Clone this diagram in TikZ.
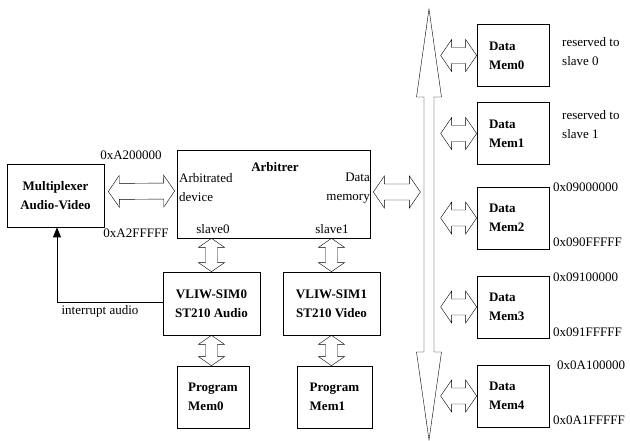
\documentclass[tikz,border=0pt]{standalone}
\usepackage{fontspec}
\setmainfont{Liberation Serif}
\usetikzlibrary{calc, arrows.meta}

\newcommand{\figfont}{\fontsize{13pt}{19pt}\selectfont}

\tikzset{
  box/.style={draw, line width=0.7pt, font=\figfont\bfseries, align=center},
  lbl/.style={inner sep=0pt},
  % hollow double-headed block arrow: shaft half width, head half width, head length
  fatarrow/.style n args={3}{
    line width=0.7pt,
    to path={
      let \p1=(\tikztostart), \p2=(\tikztotarget),
          \n1={atan2(\y2-\y1,\x2-\x1)} in
      -- ($(\p1)+(\n1:#3)+({\n1+90}:#2)$)
      -- ($(\p1)+(\n1:#3)+({\n1+90}:#1)$)
      -- ($(\p2)+({\n1+180}:#3)+({\n1+90}:#1)$)
      -- ($(\p2)+({\n1+180}:#3)+({\n1+90}:#2)$)
      -- (\p2)
      -- ($(\p2)+({\n1+180}:#3)+({\n1-90}:#2)$)
      -- ($(\p2)+({\n1+180}:#3)+({\n1-90}:#1)$)
      -- ($(\p1)+(\n1:#3)+({\n1-90}:#1)$)
      -- ($(\p1)+(\n1:#3)+({\n1-90}:#2)$)
      -- cycle
    }
  },
  hlink/.style={fatarrow={8pt}{16pt}{11pt}},
  vlink/.style={fatarrow={6pt}{13pt}{9pt}},
  busarrow/.style={fatarrow={5pt}{12.5pt}{88pt}},
  irq/.style={line width=0.7pt, -{Triangle[length=10pt, width=8pt]}}
}

\begin{document}
\begin{tikzpicture}[x=1pt, y=-1pt, every node/.style={font=\figfont}]
  \def\mw{72}
  \def\mh{62}
  \useasboundingbox (0,0) rectangle (630,441);

  % --- Multiplexer and arbiter ---
  \node[box, minimum width=97pt, minimum height=63pt] (mux) at (55.5,195.5) {Multiplexer\\Audio-Video};
  \node[box, minimum width=193pt, minimum height=88pt] (arb) at (273.5,194) {};
  \node[lbl, font=\figfont\bfseries] (arbname) at (275,167) {Arbitrer};
  \node[lbl, anchor=west, align=left] (arbdev) at (179,188) {Arbitrated\\device};
  \node[lbl, anchor=east, align=right] (arbmem) at (370,188) {Data\\memory};
  \node[lbl] (slv0) at (213,229) {slave0};
  \node[lbl] (slv1) at (332,229) {slave1};

  \node[lbl] (muxlo) at (131,155) {0xA200000};
  \node[lbl] (muxhi) at (136,233) {0xA2FFFFF};

  % --- Processors and program memories ---
  \node[box, minimum width=97pt, minimum height=63pt] (vliw0) at (211.5,303.5) {VLIW-SIM0\\ST210 Audio};
  \node[box, minimum width=97pt, minimum height=63pt] (vliw1) at (331.5,303.5) {VLIW-SIM1\\ST210 Video};
  \node[box, align=left, minimum width=\mw pt, minimum height=\mh pt] (prog0) at (213,397) {Program\\Mem0};
  \node[box, align=left, minimum width=75pt, minimum height=\mh pt] (prog1) at (334.5,397) {Program\\Mem1};

  % --- Data memories ---
  \foreach \i/\y in {0/55.5, 1/133.5, 2/218, 3/307, 4/396} {
    \node[box, align=left, text width=48pt, minimum width=\mw pt, minimum height=\mh pt] (dmem\i) at (513,\y) {Data\\Mem\i};
  }

  \node[lbl, anchor=west, align=left] (res0) at (562,52) {reserved to\\slave 0};
  \node[lbl, anchor=west, align=left] (res1) at (562,125) {reserved to\\slave 1};
  \node[lbl, anchor=west] (m2lo) at (553,187) {0x09000000};
  \node[lbl, anchor=west] (m2hi) at (553,242) {0x090FFFFF};
  \node[lbl, anchor=west] (m3lo) at (553,277) {0x09100000};
  \node[lbl, anchor=west] (m3hi) at (553,332) {0x091FFFFF};
  \node[lbl, anchor=west] (m4lo) at (557,365) {0x0A100000};
  \node[lbl, anchor=west] (m4hi) at (553,420) {0x0A1FFFFF};

  % --- Bus ---
  \coordinate (bustop) at (429,9);
  \coordinate (busbot) at (429,440);
  \draw (bustop) to[busarrow] (busbot);

  % --- Links ---
  \draw ([shift={(4pt,4pt)}]mux.east) to[hlink] ([shift={(-2pt,3pt)}]arb.west);
  \draw ([shift={(3pt,2pt)}]arb.east) to[hlink] ([shift={(50pt,2pt)}]arb.east);
  \draw (vliw0.north) to[vlink] (vliw0.north |- arb.south);
  \draw (vliw1.north) to[vlink] (vliw1.north |- arb.south);
  \draw (vliw0.south) to[vlink] (vliw0.south |- prog0.north);
  \draw (vliw1.south) to[vlink] (vliw1.south |- prog1.north);
  \foreach \i in {0,...,4} {
    \draw ([xshift=-36pt]dmem\i.west) to[hlink] (dmem\i.west);
  }

  % interrupt line
  \draw[irq] ([yshift=1.5pt]vliw0.west) -| ([xshift=1.5pt]mux.south);
  \node[lbl] (irqtxt) at (100,311) {interrupt audio};
\end{tikzpicture}
\end{document}
